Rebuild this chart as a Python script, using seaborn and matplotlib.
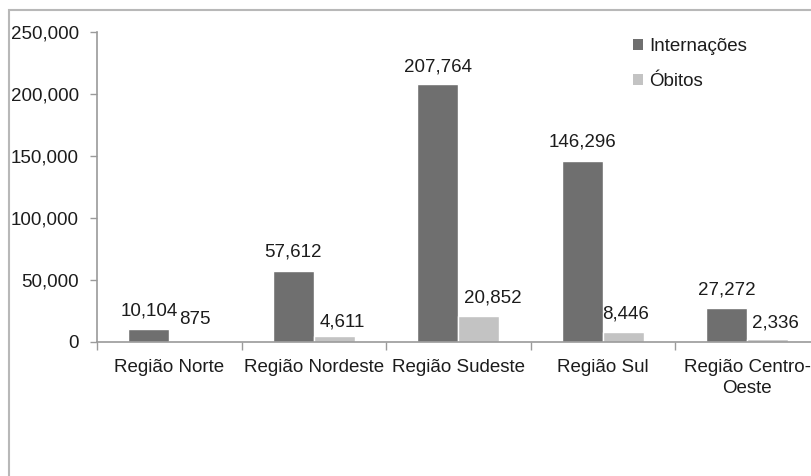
import matplotlib
matplotlib.use("Agg")
import matplotlib.pyplot as plt
from matplotlib.patches import Patch, Rectangle
from matplotlib.ticker import FixedLocator, FuncFormatter
import seaborn as sns
import pandas as pd

# Hospital admissions and deaths by region
regioes = ["Região Norte", "Região Nordeste", "Região Sudeste", "Região Sul", "Região Centro-\nOeste"]
internacoes = [10104, 57612, 207764, 146296, 27272]
obitos = [875, 4611, 20852, 8446, 2336]
series = ["Internações", "Óbitos"]

# value-label nudges in pixels (dx, dy above bar top)
off_intern = [(0, 18), (0, 19), (0, 17), (0, 19), (0, 18)]
off_obitos = [(5, 21), (8, 14), (14, 18), (2, 18), (8, 16)]

cores = ["#6f6f6f", "#c3c3c3"]
texto = "#1c1c1c"

df = pd.DataFrame({
    "Região": regioes * 2,
    "Série": [series[0]] * len(regioes) + [series[1]] * len(regioes),
    "Valor": internacoes + obitos,
})

sns.set_theme(style="white")
plt.rcParams["font.family"] = ["Liberation Sans", "DejaVu Sans"]

dpi = 100
fig = plt.figure(figsize=(8.11, 4.76), dpi=dpi)
ax = fig.add_axes([97 / 811, 1 - 342 / 476, 722.5 / 811, 310 / 476])

sns.barplot(data=df, x="Região", y="Valor", hue="Série", order=regioes,
            hue_order=series, palette=cores, width=0.567, saturation=1,
            legend=False, ax=ax, errorbar=None)

ax.set_xlim(-0.5, len(regioes) - 0.5)
ax.set_ylim(0, 250000)
ax.set_xlabel("")
ax.set_ylabel("")

fs = 13.5
ax.yaxis.set_major_locator(FixedLocator([0, 50000, 100000, 150000, 200000, 250000]))
ax.yaxis.set_major_formatter(FuncFormatter(lambda v, p: f"{int(v):,}"))
ax.tick_params(axis="y", which="major", left=True, length=5, width=1,
               color="#9a9a9a", labelsize=fs, labelcolor=texto, pad=8)

ax.set_xticks(range(len(regioes)))
ax.set_xticklabels(regioes, linespacing=1.3)
ax.xaxis.set_minor_locator(FixedLocator([i - 0.5 for i in range(len(regioes) + 1)]))
ax.tick_params(axis="x", which="major", bottom=True, length=0, labelsize=fs,
               labelcolor=texto, pad=12)
ax.tick_params(axis="x", which="minor", bottom=True, length=6, width=1,
               color="#9a9a9a")

for s in ["top", "right"]:
    ax.spines[s].set_visible(False)
for s in ["left", "bottom"]:
    ax.spines[s].set_color("#9a9a9a")
    ax.spines[s].set_linewidth(1.2)

# value labels on the bars
px = 72 / dpi
half = 0.567 / 4
for i in range(len(regioes)):
    for val, xoff, (dx, dy) in ((internacoes[i], -half, off_intern[i]),
                                (obitos[i], half, off_obitos[i])):
        ax.annotate(f"{val:,}", xy=(i + xoff, val), xytext=(dx * px, dy * px),
                    textcoords="offset points", ha="center", va="center",
                    fontsize=fs, color=texto)

handles = [Patch(facecolor=c, edgecolor="none", label=l) for c, l in zip(cores, series)]
fig.legend(handles=handles, loc="upper left", bbox_to_anchor=(633 / 811, 1 - 38 / 476),
           frameon=False, fontsize=fs, handlelength=0.55, handleheight=0.55,
           handletextpad=0.3, labelspacing=0.97, borderpad=0, borderaxespad=0,
           labelcolor=texto)

# outer chart frame
fig.add_artist(Rectangle((9 / 811, -0.2), 1.2, 1.2 - 10 / 476,
                         transform=fig.transFigure, fill=False,
                         edgecolor="#b8b8b8", linewidth=1.5))

fig.savefig("out.png", dpi=dpi)
